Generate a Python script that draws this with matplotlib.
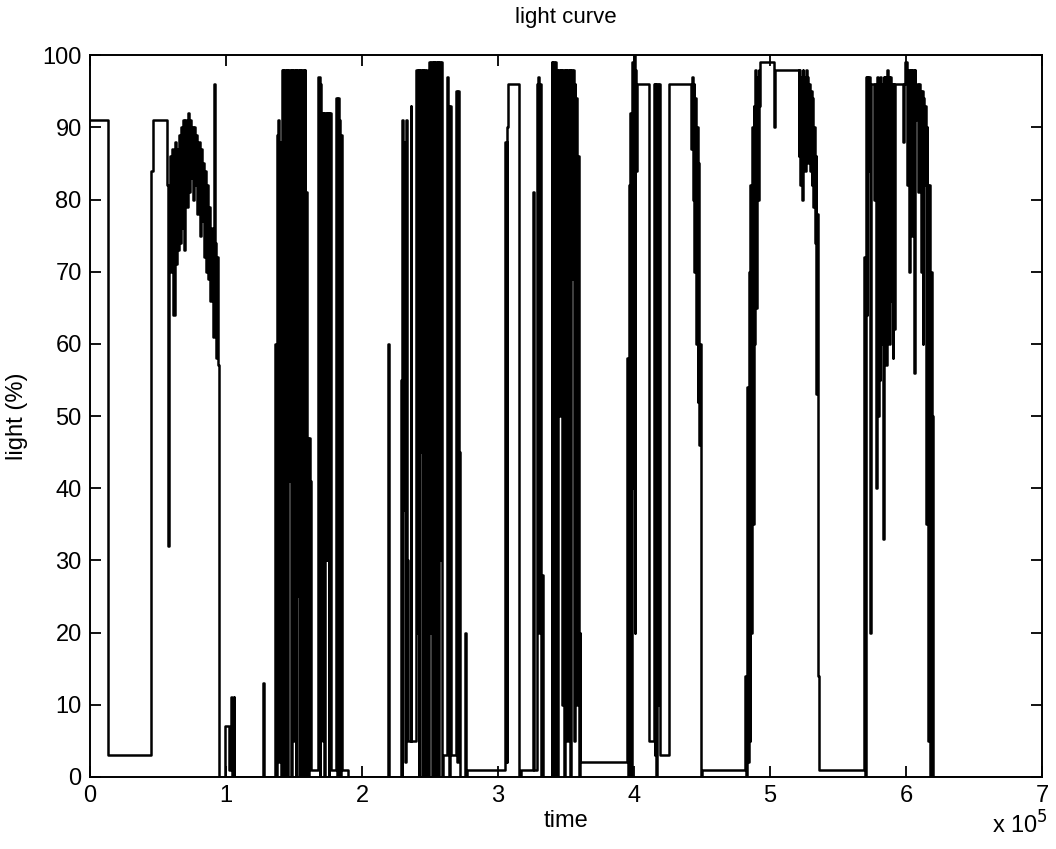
import numpy as np
import matplotlib
matplotlib.use("Agg")
import matplotlib.pyplot as plt

plt.rcParams['font.family'] = ['Liberation Sans', 'DejaVu Sans']

# light curve samples, time in thousands of seconds, light in %
# each value holds until the next time stamp
t_start = [0, 13, 45, 46.5, 56.5, 57.5, 58.3]
v_start = [91, 3, 84, 91, 82, 32, 80]

t_dome = [59.0, 59.8, 60.6, 61.4, 62.2, 63.0, 63.8, 64.6, 65.4, 66.2, 67.0, 67.8,
          68.6, 69.4, 70.2, 71.0, 71.8, 72.6, 73.4, 74.2, 75.0, 75.8, 76.6, 77.4,
          78.2, 79.0, 79.8, 80.6, 81.4, 82.2, 83.0, 83.8, 84.6, 85.4, 86.2, 87.0,
          87.8, 88.6, 89.4, 90.2, 91.0, 91.8, 92.6, 93.4, 94.2, 95.0]
v_dome = [86, 70, 87, 64, 88, 71, 87, 73, 89, 74, 90, 76,
          91, 73, 91, 79, 92, 81, 91, 83, 90, 80, 90, 82,
          89, 78, 88, 75, 87, 77, 85, 72, 84, 70, 82, 69,
          79, 66, 76, 61, 96, 74, 58, 72, 57, 0]

t_blips = [99.5, 102.5, 104.0, 104.6, 105.6, 106.2, 127.0, 127.7]
v_blips = [7, 1, 11, 0, 11, 0, 13, 0]

t_burst1 = [136.0, 136.7, 137.3, 138.0, 138.6, 139.2, 139.8, 140.4, 141.0, 141.6,
            142.2, 142.8, 143.4, 144.0, 144.6, 145.2, 145.8, 146.4, 147.0, 147.6,
            148.2, 148.8, 149.4, 150.0, 150.6, 151.2, 151.8, 152.4, 153.0, 153.6,
            154.2, 154.8, 155.4, 156.0, 156.6, 157.2, 157.8, 158.4, 159.0, 159.6,
            160.2, 160.8, 161.6, 162.2, 168.0, 168.8, 169.4, 170.2, 171.0, 171.6,
            172.4, 173.0, 174.0, 174.6, 175.4, 176.0, 177.0, 181.0, 181.6, 182.2,
            183.0, 183.6, 184.2, 184.8, 185.4, 189.5]
v_burst1 = [60, 0, 89, 4, 91, 2, 88, 0, 98, 10,
            98, 0, 98, 30, 98, 0, 98, 41, 98, 0,
            98, 57, 98, 5, 98, 0, 98, 25, 98, 0,
            98, 38, 98, 0, 98, 12, 98, 0, 81, 47,
            0, 47, 41, 1, 97, 0, 96, 92, 5, 92,
            0, 92, 30, 92, 0, 92, 1, 94, 0, 94,
            91, 60, 0, 89, 1, 0]

t_burst2 = [219.5, 220.2, 228.5, 229.2, 229.8, 230.4, 231.0, 231.6, 232.2, 232.8,
            233.4, 234.2, 235.8, 236.4, 239.8, 240.4, 241.0, 241.6, 242.2, 242.8,
            243.4, 244.0, 244.6, 245.2, 245.8, 246.4, 247.0, 247.6, 248.2, 249.6,
            250.2, 250.8, 251.4, 252.0, 252.6, 253.2, 253.8, 254.4, 255.0, 255.6,
            256.2, 256.8, 257.4, 258.0, 258.6, 259.4, 262.6, 263.4, 264.2, 265.0,
            265.8, 268.8, 269.6, 270.4, 271.2, 272.0, 275.5, 276.3, 277.0]
v_burst2 = [60, 0, 55, 0, 91, 37, 88, 2, 91, 69,
            30, 5, 93, 5, 98, 20, 98, 0, 98, 45,
            98, 0, 98, 12, 98, 0, 98, 35, 0, 99,
            20, 99, 0, 99, 60, 99, 0, 99, 83, 99,
            0, 99, 30, 99, 0, 3, 97, 93, 0, 93,
            3, 95, 2, 95, 45, 0, 20, 0, 1]

t_burst3 = [305.5, 306.3, 306.9, 307.5, 315.8, 316.6, 325.5, 326.2, 328.5, 329.1,
            329.7, 330.5, 331.1, 332.0, 332.6, 333.2, 339.5, 340.1, 340.7, 341.3,
            341.9, 342.5, 343.1, 343.7, 344.3, 344.9, 345.5, 346.1, 346.7, 347.3,
            347.9, 348.5, 349.1, 349.7, 350.3, 350.9, 351.5, 352.1, 352.7, 353.3,
            353.9, 354.5, 355.1, 355.7, 356.3, 356.9, 357.5, 358.1, 358.7, 359.3,
            360.0, 360.6]
v_burst3 = [88, 2, 90, 96, 0, 1, 81, 1, 96, 40,
            97, 20, 96, 0, 28, 0, 99, 0, 99, 0,
            99, 5, 98, 0, 98, 50, 98, 84, 98, 10,
            98, 0, 98, 60, 98, 5, 98, 25, 98, 0,
            98, 69, 98, 5, 96, 30, 94, 10, 86, 0,
            20, 2]

t_burst4 = [395.0, 395.6, 396.2, 396.8, 397.4, 398.0, 398.6, 399.2, 399.8, 400.4,
            401.0, 401.6, 402.2, 411.0, 414.6, 415.2, 415.8, 416.4, 417.0, 417.6,
            418.2, 418.8, 425.5, 442.0, 442.6, 443.2, 443.8, 444.4, 445.0, 445.6,
            446.2, 446.8, 447.4, 448.0, 448.6, 449.2, 449.8]
v_burst4 = [58, 0, 82, 10, 92, 0, 99, 40, 100, 20,
            98, 84, 96, 5, 96, 3, 96, 0, 96, 10,
            96, 3, 96, 87, 97, 80, 96, 70, 94, 60,
            90, 52, 85, 46, 60, 0, 1]

t_burst5 = [482.0, 482.6, 483.2, 483.8, 484.4, 485.0, 485.6, 486.2, 486.8, 487.4,
            488.0, 488.6, 489.2, 489.8, 490.4, 491.0, 491.6, 492.2, 492.8, 503.0,
            503.6, 521.0, 521.6, 522.2, 522.8, 523.4, 524.0, 524.6, 525.2, 525.8,
            526.4, 527.0, 527.6, 528.2, 528.8, 529.4, 530.0, 530.6, 531.2, 531.8,
            532.4, 533.0, 533.6, 534.2, 534.8, 535.4, 536.0]
v_burst5 = [14, 0, 54, 2, 70, 5, 82, 20, 90, 35,
            93, 60, 98, 65, 97, 80, 98, 93, 99, 90,
            98, 86, 98, 82, 97, 80, 98, 88, 97, 84,
            98, 86, 97, 85, 96, 84, 95, 82, 94, 79,
            90, 74, 86, 53, 78, 14, 1]

t_burst6 = [566.0, 569.2, 569.8, 570.4, 571.0, 571.6, 572.2, 572.8, 573.4, 574.0,
            576.4, 577.0, 578.2, 578.8, 579.4, 580.0, 580.6, 581.2, 581.8, 582.4,
            583.0, 583.6, 584.2, 584.8, 585.4, 586.0, 586.6, 587.2, 587.8, 588.4,
            589.0, 589.6, 590.2, 590.8, 591.4, 592.0, 597.6, 598.4, 599.4, 600.4,
            601.0, 601.6, 602.2, 602.8, 603.4, 604.0, 604.6, 605.2, 605.8, 606.4,
            607.0, 607.6, 608.8, 609.4, 610.2, 611.0, 611.6, 612.2, 612.8, 613.4,
            614.0, 614.6, 615.2, 615.8, 616.4, 617.0, 617.6, 618.2, 618.8, 619.4,
            620.0, 700.0]
v_burst6 = [1, 72, 0, 97, 64, 97, 84, 97, 20, 96,
            80, 96, 40, 97, 50, 96, 55, 97, 60, 96,
            33, 97, 62, 97, 57, 98, 70, 97, 60, 97,
            66, 96, 58, 96, 62, 96, 88, 96, 99, 96,
            82, 98, 70, 98, 85, 98, 75, 98, 56, 98,
            91, 96, 81, 96, 95, 70, 95, 60, 94, 82,
            93, 35, 90, 82, 5, 82, 0, 70, 0, 50,
            0, 0]

x_ticks = [0, 1, 2, 3, 4, 5, 6, 7]
y_ticks = [0, 10, 20, 30, 40, 50, 60, 70, 80, 90, 100]

time = np.concatenate([t_start, t_dome, t_blips, t_burst1, t_burst2,
                       t_burst3, t_burst4, t_burst5, t_burst6]) * 1000
light = np.concatenate([v_start, v_dome, v_blips, v_burst1, v_burst2,
                        v_burst3, v_burst4, v_burst5, v_burst6])

fig = plt.figure(figsize=(10.56, 8.49), dpi=100)
ax = fig.add_axes([0.0852, 0.085, 0.9015, 0.850])
ax.plot(time, light, color="black", linewidth=1.8, drawstyle="steps-post")

ax.set_xlim(0, 7e5)
ax.set_ylim(0, 100)
ax.set_xticks([v * 1e5 for v in x_ticks])
ax.set_xticklabels([str(v) for v in x_ticks])
ax.set_yticks(y_ticks)
ax.tick_params(direction="in", length=8, width=1.3, top=True, right=True,
               labelsize=17, pad=6)
for s in ax.spines.values():
    s.set_linewidth(1.4)

fig.text(0.536, 0.979, "light curve", fontsize=16, ha="center", va="center")
ax.set_xlabel("time", fontsize=17, labelpad=2)
ax.set_ylabel("light (%)", fontsize=17, labelpad=10)
fig.text(0.992, 0.012, r"x 10$^5$", fontsize=17, ha="right", va="bottom")

fig.savefig("out.png", dpi=100)
